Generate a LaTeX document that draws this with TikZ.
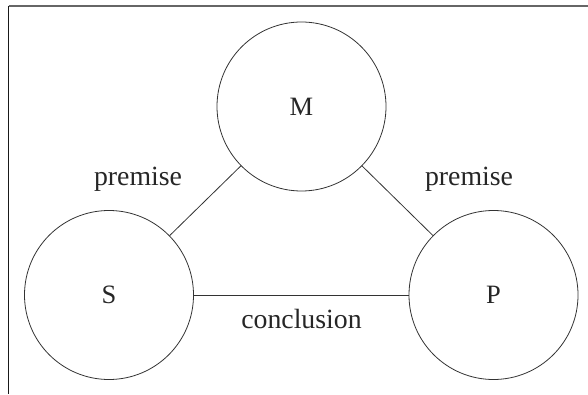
\documentclass[tikz,border=0pt]{standalone}
\usepackage{fontspec}
\setmainfont{Liberation Serif}
\begin{document}
\begin{tikzpicture}[x=1pt,y=-1pt,
  term/.style={circle,draw=black!80,line width=0.8pt,minimum size=169pt,inner sep=0pt,text=black!85,font=\fontsize{26.5}{31}\selectfont},
  lbl/.style={text=black!85,inner sep=0pt,font=\fontsize{27.8}{33}\selectfont},
  conn/.style={draw=black!80,line width=0.8pt}]
\useasboundingbox (0,0) rectangle (588,395);
\coordinate (tl) at (8.5,6);
\coordinate (tr) at (588,6);
\coordinate (bl) at (8.5,393.5);
\draw[black!60,line width=2.4pt] (tl) -- (tr);
\draw[black!90,line width=1.3pt] (tl) -- (bl);
\node[term] (M) at (301.5,106.5) {M};
\node[term] (S) at (109,295) {S};
\node[term] (P) at (493.5,295) {P};
\draw[conn] (S) -- (M);
\draw[conn] (M) -- (P);
\draw[conn] (S) -- (P);
\node[lbl] (l1) at (138,179) {premise};
\node[lbl] (l2) at (469,179) {premise};
\node[lbl] (l3) at (301.5,318.5) {conclusion};
\end{tikzpicture}
\end{document}
